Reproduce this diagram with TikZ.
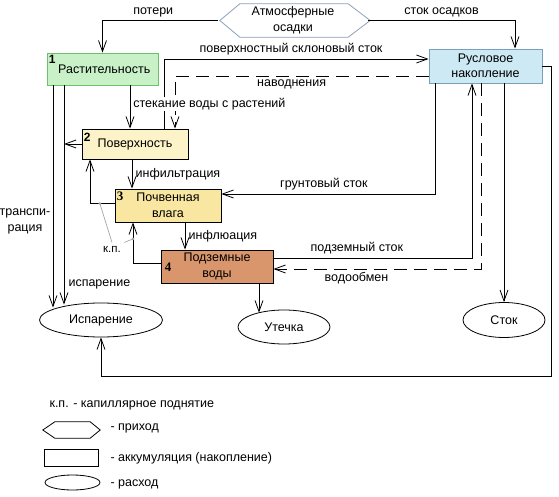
\documentclass[tikz,border=0pt]{standalone}
\usepackage{fontspec}
\setmainfont{Liberation Sans}
\newfontfamily\numserif{Liberation Serif}
\usetikzlibrary{arrows.meta,calc,shapes.geometric}

\definecolor{vegfill}{RGB}{200,241,200}
\definecolor{vegline}{RGB}{110,190,110}
\definecolor{surffill}{RGB}{252,244,200}
\definecolor{soilfill}{RGB}{249,230,160}
\definecolor{gwfill}{RGB}{217,150,108}
\definecolor{rivfill}{RGB}{204,233,244}
\definecolor{rivline}{RGB}{120,160,190}
\definecolor{atmline}{RGB}{140,160,185}

\begin{document}
\begin{tikzpicture}[
    x=1pt, y=-1pt,
    font=\fontsize{12.5}{14}\selectfont,
    >={Straight Barb[length=11pt,width=8pt]},
    box/.style     = {draw, rectangle, inner sep=2pt, align=center, line width=0.8pt},
    outflow/.style = {draw, ellipse, inner sep=0pt, line width=0.8pt},
    flow/.style    = {->, line width=0.8pt},
    wet/.style     = {flow, dash pattern=on 13pt off 7pt},
    num/.style     = {font=\fontsize{12}{12}\selectfont\bfseries, inner sep=2pt},
    kp/.style      = {gray!70, line width=0.7pt},
  ]
  \useasboundingbox (0,0) rectangle (559,497);

  % Zufluss
  \node[minimum width=150pt, minimum height=33pt, inner sep=0pt, align=center,
        font=\fontsize{12.5}{16}\selectfont] (atm) at (293,20.5) {Атмосферные\\осадки};
  \draw[atmline, line width=0.8pt] ([xshift=2pt]atm.west) -- ([xshift=22pt]atm.north west)
    -- ([xshift=-20pt]atm.north east) -- ([xshift=2pt]atm.east)
    -- ([xshift=-20pt]atm.south east) -- ([xshift=22pt]atm.south west) -- cycle;

  % Speicher
  \node[box, fill=vegfill, draw=vegline, minimum width=111pt, minimum height=32pt,
        label={[num, anchor=north west]north west:1}] (rast) at (102.5,69) {\ Растительность};
  \node[box, fill=surffill, minimum width=106pt, minimum height=30pt,
        label={[num, anchor=north west, yshift=-2pt]north west:2}] (pov) at (135,144) {Поверхность};
  \node[box, fill=soilfill, minimum width=106pt, minimum height=33pt,
        font=\fontsize{12.5}{16}\selectfont,
        label={[num, font=\numserif\fontsize{13}{13}\selectfont\bfseries, anchor=north west, yshift=-1pt]north west:3}] (poch) at (168,205.5) {Почвенная\\влага};
  \node[box, fill=gwfill, minimum width=112pt, minimum height=33pt,
        font=\fontsize{12.5}{16}\selectfont,
        label={[num, font=\numserif\fontsize{13}{13}\selectfont\bfseries, anchor=west, xshift=2pt, yshift=-1pt]west:4}] (podz) at (217,266.5) {Подземные\\воды};
  \node[box, fill=rivfill, draw=rivline, minimum width=113pt, minimum height=34pt,
        font=\fontsize{12.5}{14.5}\selectfont] (rusl) at (485.5,66) {Русловое\\накопление};

  % Abfluss
  \node[outflow, minimum width=123pt, minimum height=34pt] (isp) at (101,320) {Испарение};
  \node[outflow, minimum width=92pt, minimum height=34pt] (utech) at (284,327) {Утечка};
  \node[outflow, minimum width=82pt, minimum height=35pt] (stok) at (504,320) {Сток};

  \coordinate (loop) at (551,376);

  % Pfeile
  \draw[flow] (atm.west) -| (rast.north) node[pos=0.28, above, name=lpot] {потери};
  \draw[flow] (atm.east) -| ([xshift=29.5pt]rusl.north) node[pos=0.25, above, name=lsos] {сток осадков};
  \draw[flow] ([xshift=29pt]pov.north) |- ([yshift=7pt]rusl.west)
    node[pos=0.74, above, name=lskl] {поверхностный склоновый сток};
  \draw[wet] ([yshift=-10pt]rusl.west) -| ([xshift=40pt]pov.north)
    node[pos=0.27, below, name=lnav] {наводнения};
  \draw[flow] ([xshift=27.5pt]rast.south) coordinate (st) -- (st |- pov.north)
    node[pos=0.43, right, fill=white, inner sep=1pt, xshift=2pt, name=lstek] {стекание воды с растений};

  \draw[flow] ([xshift=-49.5pt]rast.south) coordinate (tr) -- ($(tr |- isp.north)+(0,5)$);
  \draw[flow] ([xshift=-38.5pt]rast.south) coordinate (ev) -- ($(ev |- isp.north)+(0,2)$);
  \draw[flow] (pov.west) -- (pov.west -| ev);
  \node[align=center, font=\fontsize{12.5}{16}\selectfont] (ltr) at (25,221) {транспи-\\рация};
  \node[anchor=west] (lisp) at (65,284) {испарение};

  \draw[flow] ([xshift=-3pt]pov.south) coordinate (inf) -- (inf |- poch.north)
    node[midway, right, name=linf] {инфильтрация};
  \draw[flow] ([yshift=2pt]poch.west) -| ([xshift=-45pt]pov.south) coordinate[pos=0.3] (kp1);
  \draw[flow] ([yshift=3pt]podz.west) -| ([xshift=-35pt]poch.south) coordinate[pos=0.8] (kp2);
  \node[font=\fontsize{11.5}{11.5}\selectfont] (lkp) at (112,249) {к.п.};
  \draw[kp] (kp1) -- (lkp.north);
  \draw[kp] (kp2) -- (lkp.north east);
  \fill[gray!70] (kp1) circle (1.5) (kp2) circle (1.5);

  \draw[flow] ([xshift=17pt]poch.south) coordinate (ifl) -- (ifl |- podz.north)
    node[midway, right, name=lifl] {инфлюация};

  \draw[flow] ([xshift=-50.5pt]rusl.south) |- ([yshift=11.5pt]poch.east)
    node[pos=0.76, above, name=lgr] {грунтовый сток};
  \draw[flow] ([yshift=8.5pt]podz.east) -| ([xshift=-13.5pt]rusl.south)
    node[pos=0.21, above, name=lpod] {подземный сток};
  \draw[wet] ([xshift=-4.5pt]rusl.south) |- ([yshift=-2.5pt]podz.east)
    node[pos=0.8, below, name=lvod] {водообмен};

  \draw[flow] ([xshift=42pt]podz.south) coordinate (ut) -- ($(ut |- utech.north)+(0,3)$);
  \draw[flow] (rusl.south -| stok.north) -- (stok.north);
  \draw[flow] (rusl.east) -| (loop) -| (isp.south);

  % Legende
  \node[anchor=west] (lkpl) at (46,405) {к.п. - капиллярное поднятие};
  \node[minimum width=57pt, minimum height=16pt, inner sep=0pt] (lgin) at (71.5,430) {};
  \draw[line width=0.8pt] (lgin.west) -- ([xshift=12pt]lgin.north west)
    -- ([xshift=-10pt]lgin.north east) -- (lgin.east)
    -- ([xshift=-10pt]lgin.south east) -- ([xshift=12pt]lgin.south west) -- cycle;
  \node[anchor=west] (lgint) at (107,428) {- приход};
  \node[box, minimum width=54pt, minimum height=17pt, inner sep=0pt] (lgacc) at (71,457.5) {};
  \node[anchor=west] (lgacct) at (107,458) {- аккумуляция (накопление)};
  \node[outflow, minimum width=55pt, minimum height=15pt] (lgout) at (72.5,482.5) {};
  \node[anchor=west] (lgoutt) at (107,484) {- расход};
\end{tikzpicture}
\end{document}
